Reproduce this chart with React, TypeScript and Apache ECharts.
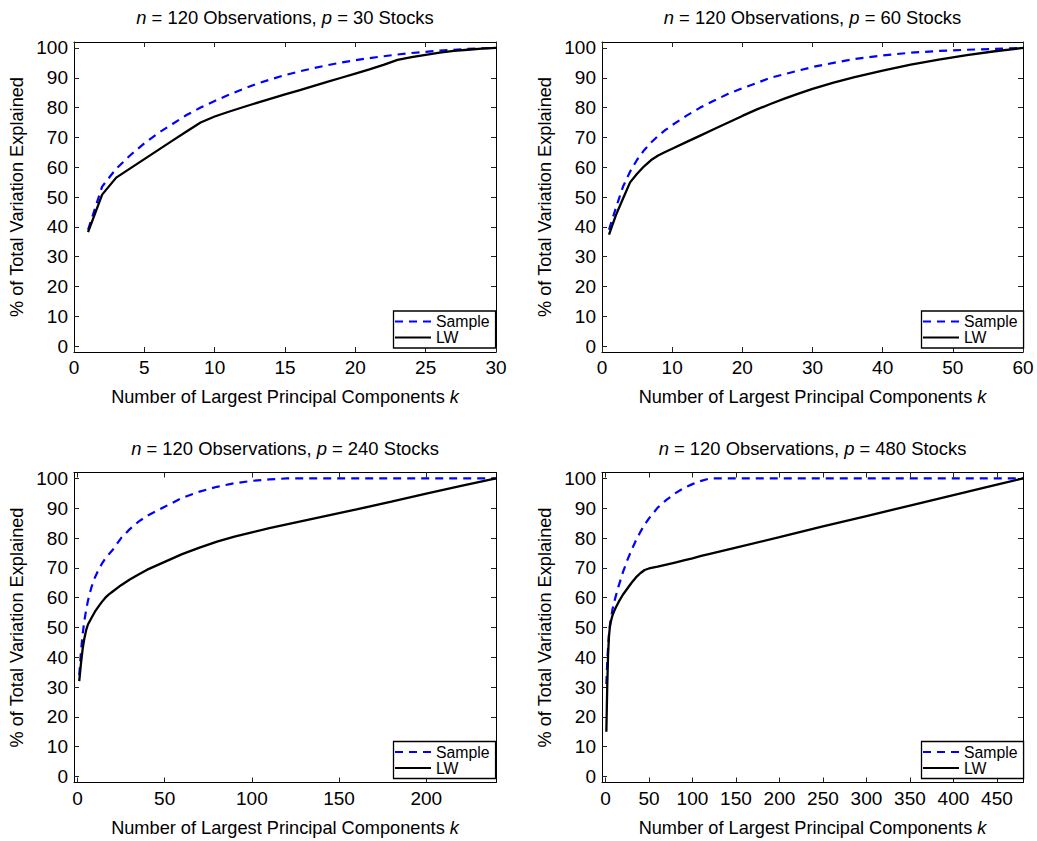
import React, { useEffect, useRef } from "react";
import * as echarts from "echarts";

const FONT = '"Liberation Sans", Arial, Helvetica, sans-serif';

// ---- data ----
const kP30 = [1, 2, 3, 4, 5, 6, 7, 8, 9, 10, 11, 12, 13, 14, 15, 16, 17, 18, 19, 20, 21, 22, 23, 24, 25, 26, 27, 28, 29, 30];
const sampleP30 = [39, 53.5, 59.5, 64, 68, 71.5, 74.5, 77.5, 80, 82.2, 84.3, 86.2, 88, 89.5, 90.9, 92.1, 93.2, 94.2, 95.1, 95.9, 96.6, 97.2, 97.8, 98.3, 98.7, 99.1, 99.4, 99.7, 99.9, 100];
const lwP30 = [38.2, 50.8, 56.5, 59.6, 62.7, 65.8, 68.9, 72, 75, 77, 78.6, 80.1, 81.6, 83, 84.4, 85.8, 87.2, 88.6, 90, 91.4, 92.8, 94.3, 96, 96.9, 97.7, 98.4, 99, 99.4, 99.8, 100];

const kP60 = [1, 2, 3, 4, 5, 6, 7, 8, 9, 10, 12, 14, 16, 18, 20, 22, 24, 26, 28, 30, 33, 36, 40, 44, 48, 52, 56, 60];
const sampleP60 = [39, 46.5, 53.5, 58.5, 62.5, 65.7, 68.3, 70.5, 72.4, 74.1, 77.2, 80, 82.4, 84.6, 86.5, 88.2, 90, 91.2, 92.4, 93.6, 95, 96.3, 97.5, 98.4, 99, 99.4, 99.7, 100];
const lwP60 = [37.4, 44, 49.5, 54.9, 57.8, 60.3, 62.4, 63.9, 65.1, 66.2, 68.4, 70.6, 72.8, 75, 77.2, 79.3, 81.2, 83, 84.7, 86.3, 88.4, 90.2, 92.4, 94.4, 96.1, 97.6, 98.9, 100];

const kP240 = [1, 2, 3, 4, 5, 6, 8, 10, 12, 14, 16, 18, 20, 25, 30, 35, 40, 50, 60, 70, 80, 90, 100, 110, 120, 140, 160, 180, 200, 220, 240];
const sampleP240 = [34, 42, 48, 52.5, 56, 59, 63.5, 66.8, 69.3, 71.4, 73.2, 74.6, 75.9, 80, 83, 85.5, 87.5, 90.5, 93.5, 95.6, 97.2, 98.4, 99.2, 99.7, 100, 100, 100, 100, 100, 100, 100];
const lwP240 = [32, 38, 43, 46.5, 49.2, 51, 53.2, 55.3, 57, 58.6, 60, 61.1, 62, 64.2, 66.1, 67.8, 69.4, 72, 74.6, 76.8, 78.8, 80.5, 81.9, 83.3, 84.6, 87.1, 89.6, 92.2, 94.9, 97.5, 100];

const kP480 = [1, 2, 3, 4, 5, 6, 8, 10, 12, 15, 20, 25, 30, 35, 40, 45, 50, 60, 70, 80, 90, 100, 110, 120, 150, 200, 250, 300, 350, 400, 450, 480];
const sampleP480 = [31, 38, 43.5, 47.5, 50.5, 52.5, 56, 58.5, 60.7, 63.8, 68.5, 72.5, 76, 79.2, 82, 84.5, 86.6, 90.2, 92.8, 95, 96.8, 98.1, 99.2, 100, 100, 100, 100, 100, 100, 100, 100, 100];
const lwP480 = [15, 30, 41, 47, 50, 51.8, 54, 55.5, 56.8, 58.5, 61, 63, 65, 66.8, 68.2, 69.3, 69.8, 70.4, 71.1, 71.8, 72.5, 73.2, 74, 74.7, 76.8, 80.3, 83.9, 87.4, 90.9, 94.4, 97.9, 100];

const yTicks = [0, 10, 20, 30, 40, 50, 60, 70, 80, 90, 100];
const yRange = [-2, 102];
const xTicks30 = [0, 5, 10, 15, 20, 25, 30];
const xTicks60 = [0, 10, 20, 30, 40, 50, 60];
const xTicks240 = [0, 50, 100, 150, 200];
const xTicks480 = [0, 50, 100, 150, 200, 250, 300, 350, 400, 450];
const xRange30 = [0, 30];
const xRange60 = [0, 60];
const xRange240 = [-2, 240];
const xRange480 = [-4, 480];
const nObs = "120";
const pStocks = ["30", "60", "240", "480"];
const seriesNames = ["Sample", "LW"];

const panels = [
  { k: kP30, sample: sampleP30, lw: lwP30, xRange: xRange30, xTicks: xTicks30 },
  { k: kP60, sample: sampleP60, lw: lwP60, xRange: xRange60, xTicks: xTicks60 },
  { k: kP240, sample: sampleP240, lw: lwP240, xRange: xRange240, xTicks: xTicks240 },
  { k: kP480, sample: sampleP480, lw: lwP480, xRange: xRange480, xTicks: xTicks480 },
];

// ---- layout ----
const gridLeft = [74, 602, 74, 602];
const gridTop = [42, 42, 472.5, 472.5];
const gridWidth = [422, 421, 422, 421];
const gridHeight = 310;

function buildOption() {
  const grid: any[] = [];
  const xAxis: any[] = [];
  const yAxis: any[] = [];
  const series: any[] = [];
  const legend: any[] = [];
  const graphic: any[] = [];

  const axisLine = { show: true, onZero: false, lineStyle: { color: "#000", width: 1 } };
  const labelStyle = { fontSize: 19, fontFamily: FONT, color: "#000" };
  const nameStyle = {
    fontSize: 18.2,
    fontFamily: FONT,
    color: "#000",
    rich: { i: { fontStyle: "italic", fontSize: 18.2, fontFamily: FONT, color: "#000" } },
  };

  panels.forEach((p, i) => {
    grid.push({
      left: gridLeft[i],
      top: gridTop[i],
      width: gridWidth[i],
      height: gridHeight,
      containLabel: false,
      outerBoundsMode: "none",
    });
    const xCommon = {
      type: "value",
      gridIndex: i,
      min: p.xRange[0],
      max: p.xRange[1],
      splitLine: { show: false },
      axisLine,
      axisTick: { show: true, inside: true, length: 5, customValues: p.xTicks, lineStyle: { color: "#222", width: 1 } },
    };
    xAxis.push({
      ...xCommon,
      position: "bottom",
      axisLabel: { show: true, customValues: p.xTicks, margin: 6, ...labelStyle },
      name: "Number of Largest Principal Components {i|k}",
      nameLocation: "middle",
      nameGap: 36,
      nameTextStyle: nameStyle,
    });
    xAxis.push({ ...xCommon, position: "top", axisLabel: { show: false } });

    const yCommon = {
      type: "value",
      gridIndex: i,
      min: yRange[0],
      max: yRange[1],
      splitLine: { show: false },
      axisLine,
      axisTick: { show: true, inside: true, length: 5, customValues: yTicks, lineStyle: { color: "#222", width: 1 } },
    };
    yAxis.push({
      ...yCommon,
      position: "left",
      axisLabel: { show: true, customValues: yTicks, margin: 6, ...labelStyle },
      name: "% of Total Variation Explained",
      nameLocation: "middle",
      nameGap: 48,
      nameTextStyle: nameStyle,
    });
    yAxis.push({ ...yCommon, position: "right", axisLabel: { show: false } });

    series.push({
      type: "line",
      name: seriesNames[0],
      xAxisIndex: i * 2,
      yAxisIndex: i * 2,
      data: p.k.map((k, j) => [k, p.sample[j]]),
      symbol: "none",
      showSymbol: false,
      lineStyle: { color: "#0000ff", width: 2.2, type: [8, 6] },
      itemStyle: { color: "#0000ff" },
      z: 3,
    });
    series.push({
      type: "line",
      name: seriesNames[1],
      xAxisIndex: i * 2,
      yAxisIndex: i * 2,
      data: p.k.map((k, j) => [k, p.lw[j]]),
      symbol: "none",
      showSymbol: false,
      lineStyle: { color: "#000000", width: 2.3, type: "solid" },
      itemStyle: { color: "#000000" },
      z: 4,
    });

    legend.push({
      orient: "vertical",
      left: gridLeft[i] + 319.5,
      top: gridTop[i] + 269,
      padding: [2.5, 6, 2.5, 0.5],
      itemGap: 0,
      itemWidth: 36,
      itemHeight: 14,
      borderColor: "#000",
      borderWidth: 1.3,
      backgroundColor: "#fff",
      selectedMode: false,
      data: seriesNames,
      itemStyle: { opacity: 0 },
      textStyle: { fontSize: 15.8, lineHeight: 15, fontFamily: FONT, color: "#000" },
    });

    graphic.push({
      type: "text",
      x: gridLeft[i] + gridWidth[i] / 2,
      y: gridTop[i] - 24.5,
      style: {
        text: "{i|n} = " + nObs + " Observations, {i|p} = " + pStocks[i] + " Stocks",
        fontSize: 18.4,
        fontFamily: FONT,
        fill: "#000",
        align: "center",
        verticalAlign: "middle",
        rich: { i: { fontStyle: "italic", fontSize: 18.4, fontFamily: FONT, fill: "#000" } },
      },
    });
  });

  return {
    animation: false,
    backgroundColor: "#fff",
    grid,
    xAxis,
    yAxis,
    series,
    legend,
    graphic,
  };
}

export default function App() {
  const ref = useRef<HTMLDivElement>(null);
  useEffect(() => {
    if (!ref.current) return;
    const chart = echarts.init(ref.current, null, { renderer: "svg" });
    chart.setOption(buildOption() as any);
    return () => chart.dispose();
  }, []);
  return (
    <div
      ref={ref}
      style={{ position: "absolute", left: 0, top: 0, width: 1037, height: 841, background: "#fff" }}
    />
  );
}
